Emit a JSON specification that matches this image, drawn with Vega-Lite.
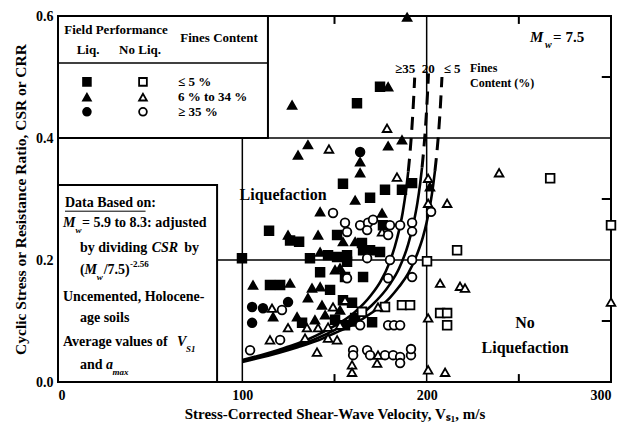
{
"$schema":"https://vega.github.io/schema/vega-lite/v6.json",
"width":553,"height":366,
"autosize":{"type":"none"},
"padding":{"left":58,"top":16,"right":6,"bottom":54},
"background":"white",
"config":{"view":{"stroke":"black","strokeWidth":2},"font":"Liberation Serif",
 "axis":{"labelFont":"Liberation Serif","titleFont":"Liberation Serif","labelFontWeight":"bold","titleFontWeight":"bold","labelColor":"black","titleColor":"black","domain":false,"ticks":false,"grid":false,"labelFontSize":14,"titleFontSize":15}},
"encoding":{
 "x":{"field":"vs1","type":"quantitative","scale":{"domain":[0,300],"nice":false},"axis":{"values":[0,100,200,300],"title":"Stress-Corrected Shear-Wave Velocity, Vₛ₁, m/s","labelPadding":6,"titlePadding":4,"labelFlush":true}},
 "y":{"field":"csr","type":"quantitative","scale":{"domain":[0,0.6],"nice":false},"axis":{"values":[0,0.2,0.4,0.6],"format":".1f","title":"Cyclic Stress or Resistance Ratio, CSR or CRR","labelPadding":5,"titlePadding":7,"labelFlush":false,"titleFontSize":15.5}}
},
"datasets":{
"grid":[{"vs1":100,"vs1_end":100,"csr":0,"csr_end":0.6},{"vs1":200,"vs1_end":200,"csr":0,"csr_end":0.6},{"vs1":0,"vs1_end":300,"csr":0.2,"csr_end":0.2},{"vs1":0,"vs1_end":300,"csr":0.4,"csr_end":0.4}],
"ticks":[{"vs1":50,"vs1_end":50,"csr":0,"csr_end":0.013},{"vs1":150,"vs1_end":150,"csr":0,"csr_end":0.013},{"vs1":250,"vs1_end":250,"csr":0,"csr_end":0.013},{"vs1":50,"vs1_end":50,"csr":0.6,"csr_end":0.587},{"vs1":150,"vs1_end":150,"csr":0.6,"csr_end":0.587},{"vs1":250,"vs1_end":250,"csr":0.6,"csr_end":0.587},{"vs1":300,"vs1_end":295,"csr":0.1,"csr_end":0.1},{"vs1":300,"vs1_end":295,"csr":0.3,"csr_end":0.3},{"vs1":300,"vs1_end":295,"csr":0.5,"csr_end":0.5}],
"boxes":[{"vs1":0,"vs1_end":113.9,"csr":0.4,"csr_end":0.6},{"vs1":0,"vs1_end":86.3,"csr":0,"csr_end":0.323}],
"seps":[{"vs1":0,"vs1_end":113.9,"csr":0.523,"csr_end":0.523,"w":1.5},{"vs1":3.8,"vs1_end":47.5,"csr":0.28,"csr_end":0.28,"w":1}],
"curves":[
{"vs1":100,"csr":0.036,"fc":"≥35","seg":"solid"},{"vs1":110,"csr":0.044,"fc":"≥35","seg":"solid"},{"vs1":120,"csr":0.053,"fc":"≥35","seg":"solid"},{"vs1":130,"csr":0.063,"fc":"≥35","seg":"solid"},{"vs1":140,"csr":0.076,"fc":"≥35","seg":"solid"},{"vs1":150,"csr":0.092,"fc":"≥35","seg":"solid"},{"vs1":160,"csr":0.112,"fc":"≥35","seg":"solid"},{"vs1":170,"csr":0.143,"fc":"≥35","seg":"solid"},{"vs1":175,"csr":0.165,"fc":"≥35","seg":"solid"},{"vs1":180,"csr":0.197,"fc":"≥35","seg":"solid"},{"vs1":184,"csr":0.236,"fc":"≥35","seg":"solid"},{"vs1":187,"csr":0.278,"fc":"≥35","seg":"solid"},{"vs1":189,"csr":0.319,"fc":"≥35","seg":"solid"},{"vs1":190,"csr":0.345,"fc":"≥35","seg":"solid"},
{"vs1":190,"csr":0.345,"fc":"≥35","seg":"dash"},{"vs1":191,"csr":0.377,"fc":"≥35","seg":"dash"},{"vs1":192,"csr":0.417,"fc":"≥35","seg":"dash"},{"vs1":193,"csr":0.468,"fc":"≥35","seg":"dash"},{"vs1":193.5,"csr":0.499,"fc":"≥35","seg":"dash"},
{"vs1":100,"csr":0.035,"fc":"20","seg":"solid"},{"vs1":110,"csr":0.042,"fc":"20","seg":"solid"},{"vs1":120,"csr":0.050,"fc":"20","seg":"solid"},{"vs1":130,"csr":0.060,"fc":"20","seg":"solid"},{"vs1":140,"csr":0.071,"fc":"20","seg":"solid"},{"vs1":150,"csr":0.085,"fc":"20","seg":"solid"},{"vs1":160,"csr":0.102,"fc":"20","seg":"solid"},{"vs1":170,"csr":0.125,"fc":"20","seg":"solid"},{"vs1":180,"csr":0.160,"fc":"20","seg":"solid"},{"vs1":185,"csr":0.186,"fc":"20","seg":"solid"},{"vs1":190,"csr":0.226,"fc":"20","seg":"solid"},{"vs1":193,"csr":0.262,"fc":"20","seg":"solid"},{"vs1":195,"csr":0.294,"fc":"20","seg":"solid"},{"vs1":196.5,"csr":0.326,"fc":"20","seg":"solid"},{"vs1":197.5,"csr":0.352,"fc":"20","seg":"solid"},
{"vs1":197.5,"csr":0.352,"fc":"20","seg":"dash"},{"vs1":198.5,"csr":0.384,"fc":"20","seg":"dash"},{"vs1":199.5,"csr":0.424,"fc":"20","seg":"dash"},{"vs1":200.5,"csr":0.475,"fc":"20","seg":"dash"},{"vs1":201,"csr":0.506,"fc":"20","seg":"dash"},
{"vs1":100,"csr":0.033,"fc":"≤5","seg":"solid"},{"vs1":110,"csr":0.040,"fc":"≤5","seg":"solid"},{"vs1":120,"csr":0.048,"fc":"≤5","seg":"solid"},{"vs1":130,"csr":0.057,"fc":"≤5","seg":"solid"},{"vs1":140,"csr":0.067,"fc":"≤5","seg":"solid"},{"vs1":150,"csr":0.080,"fc":"≤5","seg":"solid"},{"vs1":160,"csr":0.094,"fc":"≤5","seg":"solid"},{"vs1":170,"csr":0.113,"fc":"≤5","seg":"solid"},{"vs1":180,"csr":0.138,"fc":"≤5","seg":"solid"},{"vs1":185,"csr":0.156,"fc":"≤5","seg":"solid"},{"vs1":190,"csr":0.178,"fc":"≤5","seg":"solid"},{"vs1":195,"csr":0.211,"fc":"≤5","seg":"solid"},{"vs1":198,"csr":0.238,"fc":"≤5","seg":"solid"},{"vs1":200,"csr":0.262,"fc":"≤5","seg":"solid"},{"vs1":202,"csr":0.292,"fc":"≤5","seg":"solid"},{"vs1":203.5,"csr":0.322,"fc":"≤5","seg":"solid"},{"vs1":204.5,"csr":0.346,"fc":"≤5","seg":"solid"},
{"vs1":204.5,"csr":0.346,"fc":"≤5","seg":"dash"},{"vs1":205.5,"csr":0.375,"fc":"≤5","seg":"dash"},{"vs1":206.5,"csr":0.410,"fc":"≤5","seg":"dash"},{"vs1":207.5,"csr":0.455,"fc":"≤5","seg":"dash"},{"vs1":208.3,"csr":0.500,"fc":"≤5","seg":"dash"}],
"points":[
{"vs1":162.2,"csr":0.457,"fines":"≤ 5 %","perf":"Liq."},{"vs1":174.7,"csr":0.484,"fines":"≤ 5 %","perf":"Liq."},{"vs1":154.6,"csr":0.325,"fines":"≤ 5 %","perf":"Liq."},{"vs1":192.1,"csr":0.326,"fines":"≤ 5 %","perf":"Liq."},{"vs1":186.6,"csr":0.315,"fines":"≤ 5 %","perf":"Liq."},{"vs1":177.4,"csr":0.315,"fines":"≤ 5 %","perf":"Liq."},{"vs1":169.3,"csr":0.302,"fines":"≤ 5 %","perf":"Liq."},{"vs1":114.5,"csr":0.248,"fines":"≤ 5 %","perf":"Liq."},{"vs1":125.9,"csr":0.232,"fines":"≤ 5 %","perf":"Liq."},{"vs1":130.8,"csr":0.230,"fines":"≤ 5 %","perf":"Liq."},{"vs1":151.4,"csr":0.241,"fines":"≤ 5 %","perf":"Liq."},{"vs1":164.9,"csr":0.228,"fines":"≤ 5 %","perf":"Liq."},{"vs1":176.3,"csr":0.257,"fines":"≤ 5 %","perf":"Liq."},{"vs1":165.5,"csr":0.216,"fines":"≤ 5 %","perf":"Liq."},{"vs1":169.3,"csr":0.216,"fines":"≤ 5 %","perf":"Liq."},{"vs1":174.7,"csr":0.213,"fines":"≤ 5 %","perf":"Liq."},{"vs1":99.8,"csr":0.203,"fines":"≤ 5 %","perf":"Liq."},{"vs1":136.7,"csr":0.203,"fines":"≤ 5 %","perf":"Liq."},{"vs1":146.5,"csr":0.208,"fines":"≤ 5 %","perf":"Liq."},{"vs1":151.4,"csr":0.205,"fines":"≤ 5 %","perf":"Liq."},{"vs1":156.8,"csr":0.208,"fines":"≤ 5 %","perf":"Liq."},{"vs1":156.8,"csr":0.197,"fines":"≤ 5 %","perf":"Liq."},{"vs1":142.2,"csr":0.180,"fines":"≤ 5 %","perf":"Liq."},{"vs1":155.7,"csr":0.172,"fines":"≤ 5 %","perf":"Liq."},{"vs1":165.5,"csr":0.172,"fines":"≤ 5 %","perf":"Liq."},{"vs1":115.0,"csr":0.159,"fines":"≤ 5 %","perf":"Liq."},{"vs1":120.5,"csr":0.159,"fines":"≤ 5 %","perf":"Liq."},{"vs1":147.6,"csr":0.151,"fines":"≤ 5 %","perf":"Liq."},{"vs1":132.4,"csr":0.097,"fines":"≤ 5 %","perf":"Liq."},{"vs1":170.4,"csr":0.098,"fines":"≤ 5 %","perf":"Liq."},{"vs1":154.6,"csr":0.134,"fines":"≤ 5 %","perf":"Liq."},{"vs1":159.5,"csr":0.130,"fines":"≤ 5 %","perf":"Liq."},{"vs1":161.2,"csr":0.105,"fines":"≤ 5 %","perf":"Liq."},{"vs1":155.7,"csr":0.093,"fines":"≤ 5 %","perf":"Liq."},{"vs1":150.3,"csr":0.102,"fines":"≤ 5 %","perf":"Liq."},
{"vs1":189.4,"csr":0.598,"fines":"6 % to 34 %","perf":"Liq."},{"vs1":179.1,"csr":0.484,"fines":"6 % to 34 %","perf":"Liq."},{"vs1":127.0,"csr":0.454,"fines":"6 % to 34 %","perf":"Liq."},{"vs1":135.6,"csr":0.389,"fines":"6 % to 34 %","perf":"Liq."},{"vs1":130.2,"csr":0.372,"fines":"6 % to 34 %","perf":"Liq."},{"vs1":186.6,"csr":0.397,"fines":"6 % to 34 %","perf":"Liq."},{"vs1":179.1,"csr":0.387,"fines":"6 % to 34 %","perf":"Liq."},{"vs1":163.9,"csr":0.361,"fines":"6 % to 34 %","perf":"Liq."},{"vs1":163.9,"csr":0.343,"fines":"6 % to 34 %","perf":"Liq."},{"vs1":161.2,"csr":0.298,"fines":"6 % to 34 %","perf":"Liq."},{"vs1":201.8,"csr":0.320,"fines":"6 % to 34 %","perf":"Liq."},{"vs1":142.2,"csr":0.279,"fines":"6 % to 34 %","perf":"Liq."},{"vs1":175.8,"csr":0.277,"fines":"6 % to 34 %","perf":"Liq."},{"vs1":124.8,"csr":0.241,"fines":"6 % to 34 %","perf":"Liq."},{"vs1":141.1,"csr":0.241,"fines":"6 % to 34 %","perf":"Liq."},{"vs1":154.6,"csr":0.230,"fines":"6 % to 34 %","perf":"Liq."},{"vs1":161.2,"csr":0.230,"fines":"6 % to 34 %","perf":"Liq."},{"vs1":142.2,"csr":0.213,"fines":"6 % to 34 %","perf":"Liq."},{"vs1":150.3,"csr":0.184,"fines":"6 % to 34 %","perf":"Liq."},{"vs1":153.0,"csr":0.187,"fines":"6 % to 34 %","perf":"Liq."},{"vs1":105.8,"csr":0.159,"fines":"6 % to 34 %","perf":"Liq."},{"vs1":125.9,"csr":0.162,"fines":"6 % to 34 %","perf":"Liq."},{"vs1":137.8,"csr":0.154,"fines":"6 % to 34 %","perf":"Liq."},{"vs1":142.2,"csr":0.156,"fines":"6 % to 34 %","perf":"Liq."},{"vs1":135.6,"csr":0.138,"fines":"6 % to 34 %","perf":"Liq."},{"vs1":116.7,"csr":0.107,"fines":"6 % to 34 %","perf":"Liq."},{"vs1":129.7,"csr":0.107,"fines":"6 % to 34 %","perf":"Liq."},{"vs1":139.4,"csr":0.102,"fines":"6 % to 34 %","perf":"Liq."},{"vs1":144.9,"csr":0.110,"fines":"6 % to 34 %","perf":"Liq."},{"vs1":153.0,"csr":0.118,"fines":"6 % to 34 %","perf":"Liq."},{"vs1":158.4,"csr":0.098,"fines":"6 % to 34 %","perf":"Liq."},{"vs1":143.2,"csr":0.126,"fines":"6 % to 34 %","perf":"Liq."},
{"vs1":163.9,"csr":0.377,"fines":"≥ 35 %","perf":"Liq."},{"vs1":105.3,"csr":0.123,"fines":"≥ 35 %","perf":"Liq."},{"vs1":105.3,"csr":0.097,"fines":"≥ 35 %","perf":"Liq."},{"vs1":111.2,"csr":0.121,"fines":"≥ 35 %","perf":"Liq."},{"vs1":124.8,"csr":0.131,"fines":"≥ 35 %","perf":"Liq."},
{"vs1":200.2,"csr":0.198,"fines":"≤ 5 %","perf":"No Liq."},{"vs1":216.5,"csr":0.216,"fines":"≤ 5 %","perf":"No Liq."},{"vs1":267.0,"csr":0.334,"fines":"≤ 5 %","perf":"No Liq."},{"vs1":300,"csr":0.257,"fines":"≤ 5 %","perf":"No Liq."},{"vs1":164.9,"csr":0.115,"fines":"≤ 5 %","perf":"No Liq."},{"vs1":177.4,"csr":0.123,"fines":"≤ 5 %","perf":"No Liq."},{"vs1":186.6,"csr":0.126,"fines":"≤ 5 %","perf":"No Liq."},{"vs1":191.0,"csr":0.126,"fines":"≤ 5 %","perf":"No Liq."},{"vs1":207.3,"csr":0.113,"fines":"≤ 5 %","perf":"No Liq."},{"vs1":211.1,"csr":0.113,"fines":"≤ 5 %","perf":"No Liq."},{"vs1":211.1,"csr":0.093,"fines":"≤ 5 %","perf":"No Liq."},
{"vs1":178.5,"csr":0.416,"fines":"6 % to 34 %","perf":"No Liq."},{"vs1":147.0,"csr":0.382,"fines":"6 % to 34 %","perf":"No Liq."},{"vs1":183.9,"csr":0.336,"fines":"6 % to 34 %","perf":"No Liq."},{"vs1":200.8,"csr":0.334,"fines":"6 % to 34 %","perf":"No Liq."},{"vs1":200.8,"csr":0.293,"fines":"6 % to 34 %","perf":"No Liq."},{"vs1":211.1,"csr":0.293,"fines":"6 % to 34 %","perf":"No Liq."},{"vs1":239.3,"csr":0.343,"fines":"6 % to 34 %","perf":"No Liq."},{"vs1":175.8,"csr":0.246,"fines":"6 % to 34 %","perf":"No Liq."},{"vs1":207.3,"csr":0.162,"fines":"6 % to 34 %","perf":"No Liq."},{"vs1":218.1,"csr":0.157,"fines":"6 % to 34 %","perf":"No Liq."},{"vs1":220.8,"csr":0.154,"fines":"6 % to 34 %","perf":"No Liq."},{"vs1":300,"csr":0.131,"fines":"6 % to 34 %","perf":"No Liq."},{"vs1":200.8,"csr":0.105,"fines":"6 % to 34 %","perf":"No Liq."},{"vs1":173.6,"csr":0.123,"fines":"6 % to 34 %","perf":"No Liq."},{"vs1":116.1,"csr":0.121,"fines":"6 % to 34 %","perf":"No Liq."},{"vs1":124.8,"csr":0.089,"fines":"6 % to 34 %","perf":"No Liq."},{"vs1":135.1,"csr":0.089,"fines":"6 % to 34 %","perf":"No Liq."},{"vs1":141.1,"csr":0.089,"fines":"6 % to 34 %","perf":"No Liq."},{"vs1":146.5,"csr":0.090,"fines":"6 % to 34 %","perf":"No Liq."},{"vs1":153.0,"csr":0.093,"fines":"6 % to 34 %","perf":"No Liq."},{"vs1":134.0,"csr":0.072,"fines":"6 % to 34 %","perf":"No Liq."},{"vs1":146.5,"csr":0.072,"fines":"6 % to 34 %","perf":"No Liq."},{"vs1":151.4,"csr":0.069,"fines":"6 % to 34 %","perf":"No Liq."},{"vs1":115.0,"csr":0.069,"fines":"6 % to 34 %","perf":"No Liq."},{"vs1":140.5,"csr":0.049,"fines":"6 % to 34 %","perf":"No Liq."},{"vs1":173.6,"csr":0.044,"fines":"6 % to 34 %","perf":"No Liq."},{"vs1":173.1,"csr":0.031,"fines":"6 % to 34 %","perf":"No Liq."},{"vs1":159.5,"csr":0.028,"fines":"6 % to 34 %","perf":"No Liq."},{"vs1":159.5,"csr":0.016,"fines":"6 % to 34 %","perf":"No Liq."},{"vs1":200.8,"csr":0.020,"fines":"6 % to 34 %","perf":"No Liq."},{"vs1":210.0,"csr":0.016,"fines":"6 % to 34 %","perf":"No Liq."},{"vs1":149.2,"csr":0.123,"fines":"6 % to 34 %","perf":"No Liq."},{"vs1":155.7,"csr":0.134,"fines":"6 % to 34 %","perf":"No Liq."},
{"vs1":149.2,"csr":0.277,"fines":"≥ 35 %","perf":"No Liq."},{"vs1":155.7,"csr":0.261,"fines":"≥ 35 %","perf":"No Liq."},{"vs1":156.8,"csr":0.246,"fines":"≥ 35 %","perf":"No Liq."},{"vs1":163.9,"csr":0.257,"fines":"≥ 35 %","perf":"No Liq."},{"vs1":168.2,"csr":0.261,"fines":"≥ 35 %","perf":"No Liq."},{"vs1":170.9,"csr":0.266,"fines":"≥ 35 %","perf":"No Liq."},{"vs1":167.7,"csr":0.249,"fines":"≥ 35 %","perf":"No Liq."},{"vs1":179.1,"csr":0.241,"fines":"≥ 35 %","perf":"No Liq."},{"vs1":180.1,"csr":0.257,"fines":"≥ 35 %","perf":"No Liq."},{"vs1":185.6,"csr":0.257,"fines":"≥ 35 %","perf":"No Liq."},{"vs1":192.1,"csr":0.261,"fines":"≥ 35 %","perf":"No Liq."},{"vs1":192.1,"csr":0.247,"fines":"≥ 35 %","perf":"No Liq."},{"vs1":202.4,"csr":0.279,"fines":"≥ 35 %","perf":"No Liq."},{"vs1":167.7,"csr":0.203,"fines":"≥ 35 %","perf":"No Liq."},{"vs1":180.1,"csr":0.200,"fines":"≥ 35 %","perf":"No Liq."},{"vs1":192.1,"csr":0.200,"fines":"≥ 35 %","perf":"No Liq."},{"vs1":156.8,"csr":0.170,"fines":"≥ 35 %","perf":"No Liq."},{"vs1":179.1,"csr":0.170,"fines":"≥ 35 %","perf":"No Liq."},{"vs1":192.1,"csr":0.172,"fines":"≥ 35 %","perf":"No Liq."},{"vs1":121.5,"csr":0.118,"fines":"≥ 35 %","perf":"No Liq."},{"vs1":163.9,"csr":0.093,"fines":"≥ 35 %","perf":"No Liq."},{"vs1":179.1,"csr":0.093,"fines":"≥ 35 %","perf":"No Liq."},{"vs1":182.3,"csr":0.093,"fines":"≥ 35 %","perf":"No Liq."},{"vs1":185.6,"csr":0.093,"fines":"≥ 35 %","perf":"No Liq."},{"vs1":104.2,"csr":0.052,"fines":"≥ 35 %","perf":"No Liq."},{"vs1":120.5,"csr":0.069,"fines":"≥ 35 %","perf":"No Liq."},{"vs1":160.1,"csr":0.052,"fines":"≥ 35 %","perf":"No Liq."},{"vs1":160.1,"csr":0.044,"fines":"≥ 35 %","perf":"No Liq."},{"vs1":167.7,"csr":0.052,"fines":"≥ 35 %","perf":"No Liq."},{"vs1":169.3,"csr":0.044,"fines":"≥ 35 %","perf":"No Liq."},{"vs1":177.4,"csr":0.044,"fines":"≥ 35 %","perf":"No Liq."},{"vs1":181.8,"csr":0.044,"fines":"≥ 35 %","perf":"No Liq."},{"vs1":185.6,"csr":0.041,"fines":"≥ 35 %","perf":"No Liq."},{"vs1":191.5,"csr":0.044,"fines":"≥ 35 %","perf":"No Liq."},{"vs1":191.5,"csr":0.054,"fines":"≥ 35 %","perf":"No Liq."},{"vs1":185.6,"csr":0.031,"fines":"≥ 35 %","perf":"No Liq."}],
"legsym":[{"vs1":15.7,"csr":0.492,"fines":"≤ 5 %","perf":"Liq."},{"vs1":46.1,"csr":0.492,"fines":"≤ 5 %","perf":"No Liq."},{"vs1":15.7,"csr":0.467,"fines":"6 % to 34 %","perf":"Liq."},{"vs1":46.1,"csr":0.467,"fines":"6 % to 34 %","perf":"No Liq."},{"vs1":15.7,"csr":0.443,"fines":"≥ 35 %","perf":"Liq."},{"vs1":46.1,"csr":0.443,"fines":"≥ 35 %","perf":"No Liq."}],
"txtc":[{"vs1":122.1,"csr":0.307,"t":"Liquefaction","s":16},{"vs1":253.4,"csr":0.097,"t":"No","s":16},{"vs1":253.4,"csr":0.056,"t":"Liquefaction","s":16},{"vs1":31.5,"csr":0.577,"t":"Field Performance","s":13},{"vs1":16.3,"csr":0.544,"t":"Liq.","s":13},{"vs1":44.5,"csr":0.544,"t":"No Liq.","s":13},{"vs1":87.4,"csr":0.564,"t":"Fines Content","s":13},{"vs1":188.3,"csr":0.513,"t":"≥35","s":13},{"vs1":200.8,"csr":0.513,"t":"20","s":13},{"vs1":213.8,"csr":0.513,"t":"≤ 5","s":13}],
"txtl":[{"vs1":223.5,"csr":0.515,"t":"Fines","s":12},{"vs1":223.5,"csr":0.490,"t":"Content (%)","s":12},{"vs1":65.1,"csr":0.492,"t":"≤ 5 %","s":13},{"vs1":65.1,"csr":0.467,"t":"6 % to 34 %","s":13},{"vs1":65.1,"csr":0.443,"t":"≥ 35 %","s":13},{"vs1":3.8,"csr":0.293,"t":"Data Based on:","s":14},{"vs1":13.0,"csr":0.261,"t":"= 5.9 to 8.3: adjusted","s":14},{"vs1":11.9,"csr":0.220,"t":"by dividing","s":14},{"vs1":68.5,"csr":0.220,"t":"by","s":14},{"vs1":11.9,"csr":0.184,"t":"(","s":14},{"vs1":24.8,"csr":0.184,"t":"/7.5)","s":14},{"vs1":39.0,"csr":0.194,"t":"-2.56","s":9},{"vs1":2.7,"csr":0.139,"t":"Uncemented, Holocene-","s":14},{"vs1":11.9,"csr":0.105,"t":"age soils","s":14},{"vs1":2.7,"csr":0.066,"t":"Average values of","s":14},{"vs1":11.9,"csr":0.028,"t":"and","s":14},{"vs1":268.6,"csr":0.566,"t":"= 7.5","s":15}],
"txti":[{"vs1":2.7,"csr":0.261,"t":"M","s":14},{"vs1":9.5,"csr":0.249,"t":"w","s":9},{"vs1":50.8,"csr":0.220,"t":"CSR","s":14},{"vs1":14.4,"csr":0.184,"t":"M","s":14},{"vs1":21.0,"csr":0.172,"t":"w","s":9},{"vs1":64.5,"csr":0.066,"t":"V","s":14},{"vs1":69.5,"csr":0.054,"t":"S1","s":9},{"vs1":26.0,"csr":0.028,"t":"a","s":14},{"vs1":29.6,"csr":0.016,"t":"max","s":9},{"vs1":256.1,"csr":0.566,"t":"M","s":15},{"vs1":264.2,"csr":0.553,"t":"w","s":10}]
},
"layer":[
{"data":{"name":"grid"},"mark":{"type":"rule","color":"black","strokeWidth":1.5},
 "encoding":{"x2":{"field":"vs1_end"},"y2":{"field":"csr_end"}}},
{"data":{"name":"ticks"},"mark":{"type":"rule","color":"black","strokeWidth":2},
 "encoding":{"x2":{"field":"vs1_end"},"y2":{"field":"csr_end"}}},
{"data":{"name":"boxes"},"mark":{"type":"rect","fill":"white","stroke":"black","strokeWidth":2},
 "encoding":{"x2":{"field":"vs1_end"},"y2":{"field":"csr_end"}}},
{"data":{"name":"seps"},"mark":{"type":"rule","color":"black"},
 "encoding":{"x2":{"field":"vs1_end"},"y2":{"field":"csr_end"},"strokeWidth":{"field":"w","type":"quantitative","scale":null}}},
{"data":{"name":"curves"},"transform":[{"filter":"datum.seg === 'solid'"}],"mark":{"type":"line","color":"black","strokeWidth":2.6,"interpolate":"monotone"},
 "encoding":{"detail":{"field":"fc"}}},
{"data":{"name":"curves"},"transform":[{"filter":"datum.seg === 'dash'"}],"mark":{"type":"line","color":"black","strokeWidth":3,"strokeDash":[13,8],"interpolate":"monotone"},
 "encoding":{"detail":{"field":"fc"}}},
{"data":{"name":"points"},"mark":{"type":"point","filled":false,"stroke":"black","strokeWidth":1.8,"size":75,"opacity":1},
 "encoding":{
 "shape":{"field":"fines","type":"nominal","scale":{"domain":["≤ 5 %","6 % to 34 %","≥ 35 %"],"range":["square","triangle-up","circle"]},"legend":null},
 "fill":{"field":"perf","type":"nominal","scale":{"domain":["Liq.","No Liq."],"range":["black","white"]},"legend":null}}},
{"data":{"name":"legsym"},"mark":{"type":"point","filled":false,"stroke":"black","strokeWidth":1.8,"size":60,"opacity":1},
 "encoding":{
 "shape":{"field":"fines","type":"nominal","scale":{"domain":["≤ 5 %","6 % to 34 %","≥ 35 %"],"range":["square","triangle-up","circle"]},"legend":null},
 "fill":{"field":"perf","type":"nominal","scale":{"domain":["Liq.","No Liq."],"range":["black","white"]},"legend":null}}},
{"data":{"name":"txtc"},"mark":{"type":"text","font":"Liberation Serif","fontWeight":"bold","align":"center","baseline":"middle","color":"black"},
 "encoding":{"text":{"field":"t"},"size":{"field":"s","type":"quantitative","scale":null}}},
{"data":{"name":"txtl"},"mark":{"type":"text","font":"Liberation Serif","fontWeight":"bold","align":"left","baseline":"middle","color":"black"},
 "encoding":{"text":{"field":"t"},"size":{"field":"s","type":"quantitative","scale":null}}},
{"data":{"name":"txti"},"mark":{"type":"text","font":"Liberation Serif","fontWeight":"bold","fontStyle":"italic","align":"left","baseline":"middle","color":"black"},
 "encoding":{"text":{"field":"t"},"size":{"field":"s","type":"quantitative","scale":null}}}
]
}
